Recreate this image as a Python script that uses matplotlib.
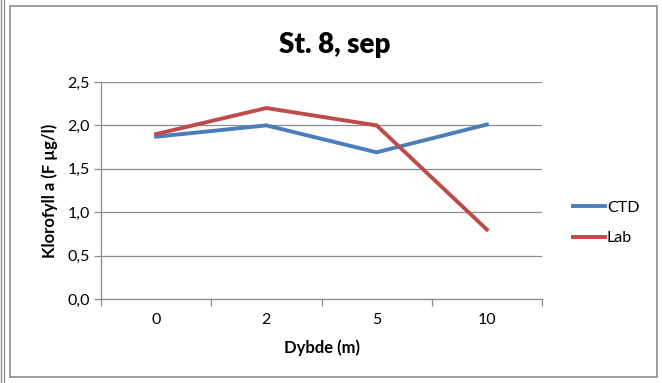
import matplotlib
matplotlib.use("Agg")
import matplotlib.pyplot as plt
from matplotlib.lines import Line2D
from matplotlib.patches import Rectangle

categories = ["0", "2", "5", "10"]
ctd = [1.87, 2.00, 1.69, 2.01]
lab = [1.90, 2.20, 2.00, 0.80]
yticks = [0.0, 0.5, 1.0, 1.5, 2.0, 2.5]
ytick_labels = ["0,0", "0,5", "1,0", "1,5", "2,0", "2,5"]

plt.rcParams['font.family'] = ['Lato', 'DejaVu Sans']

fig = plt.figure(figsize=(6.62, 3.83), dpi=100)
W, H = 662, 383

def fx(x): return x / W
def fy(y): return 1 - y / H

# chart frame
fig.patches.append(Rectangle((fx(10), fy(377)), fx(657) - fx(10), fy(6) - fy(377),
                             transform=fig.transFigure, fill=False, edgecolor="#8c8c8c", linewidth=1.2))
# left border of neighbouring chart
for xx in (1, 3.5):
    fig.lines.append(Line2D([fx(xx), fx(xx)], [0, 1], transform=fig.transFigure, color="#8c8c8c", linewidth=0.9))

ax = fig.add_axes([fx(101), fy(299), fx(542) - fx(101), fy(82) - fy(299)])

x = list(range(len(categories)))
ax.plot(x, ctd, color="#4a7ebb", linewidth=2.8, label="CTD", solid_joinstyle="miter")
ax.plot(x, lab, color="#be4b48", linewidth=2.8, label="Lab", solid_joinstyle="miter")

ax.set_xlim(-0.5, len(categories) - 0.5)
ax.set_ylim(0, 2.5)
ax.set_yticks(yticks)
ax.set_yticklabels(ytick_labels)
ax.set_xticks(x)
ax.set_xticklabels(categories)
ax.set_xticks([i - 0.5 for i in range(len(categories) + 1)], minor=True)
ax.tick_params(axis="x", which="major", length=0, pad=10, labelsize=11.5, colors="#000000")
ax.tick_params(axis="x", which="minor", length=5, width=0.9, color="#8c8c8c", direction="out")
ax.tick_params(axis="y", length=5, width=0.9, color="#8c8c8c", pad=3, labelsize=11.5)
ax.grid(axis="y", color="#8c8c8c", linewidth=0.9)
ax.set_axisbelow(True)
for s in ("top", "right"):
    ax.spines[s].set_visible(False)
for s in ("left", "bottom"):
    ax.spines[s].set_color("#8c8c8c")
    ax.spines[s].set_linewidth(0.9)

ax.set_xlabel("Dybde (m)", fontsize=12, fontweight="bold", labelpad=9)
ax.set_ylabel("Klorofyll a (F µg/l)", fontsize=12, fontweight="bold", labelpad=7)
fig.text(fx(335), fy(45), "St. 8, sep", fontsize=20, fontweight="heavy", ha="center", va="center")

leg = ax.legend(loc="center left", bbox_to_anchor=(fx(559), fy(223)), bbox_transform=fig.transFigure,
                frameon=False, fontsize=11.5, handlelength=2.0, handletextpad=0.1, labelspacing=1.0)

fig.savefig("out.png", dpi=100)
